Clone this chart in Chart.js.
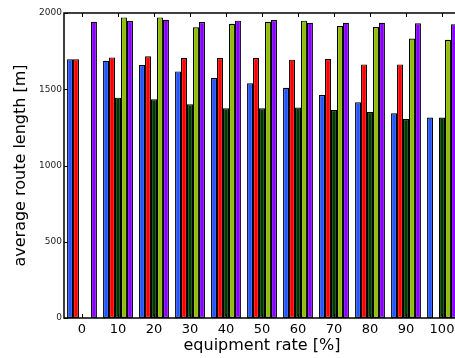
<!DOCTYPE html>
<html>
<head>
<meta charset="utf-8">
<script src="https://cdn.jsdelivr.net/npm/chart.js@4/dist/chart.umd.min.js"></script>
<style>
  html, body { margin: 0; padding: 0; background: #fff; overflow: hidden; }
  #wrap { width: 462px; height: 358px; }
</style>
</head>
<body>
<div id="wrap"><canvas id="chart"></canvas></div>
<script>
// equipment rate categories (x axis)
const rates = ['0', '10', '20', '30', '40', '50', '60', '70', '80', '90', '100'];

// average route length per series (null = no bar)
const seriesBlue   = [1697, 1687, 1659, 1617, 1574, 1539, 1510, 1462, 1414, 1342, 1314];
const seriesRed    = [1697, 1709, 1716, 1705, 1705, 1705, 1694, 1698, 1663, 1663, null];
const seriesGreen  = [null, 1445, 1434, 1401, 1375, 1375, 1381, 1364, 1351, 1305, 1314];
const seriesLime   = [null, 1971, 1971, 1906, 1930, 1943, 1950, 1915, 1908, 1832, 1825];
const seriesPurple = [1943, 1947, 1956, 1941, 1950, 1954, 1936, 1936, 1936, 1932, 1926];

const yTicks = [0, 500, 1000, 1500, 2000];

const colors = ['#2255ff', '#ff0000', '#003800', '#8fbf00', '#8800ff'];

// draws the box around the plot and the small inward tick marks (matplotlib look)
const framePlugin = {
  id: 'framePlugin',
  afterDraw: (chart) => {
    const ctx = chart.ctx;
    const a = chart.chartArea;
    const x = chart.scales.x;
    const y = chart.scales.y;
    ctx.save();
    ctx.strokeStyle = '#000';
    ctx.lineWidth = 1;
    for (let i = 0; i < rates.length; i++) {
      const px = Math.round(x.getPixelForTick(i)) + 0.5;
      ctx.beginPath();
      ctx.moveTo(px, a.top); ctx.lineTo(px, a.top + 4);
      ctx.moveTo(px, a.bottom); ctx.lineTo(px, a.bottom - 4);
      ctx.stroke();
    }
    yTicks.forEach((v) => {
      const py = Math.round(y.getPixelForValue(v)) + 0.5;
      ctx.beginPath();
      ctx.moveTo(a.left, py); ctx.lineTo(a.left + 4, py);
      ctx.stroke();
    });
    ctx.lineWidth = 1.5;
    ctx.strokeRect(a.left, a.top, a.right - a.left, a.bottom - a.top);
    ctx.restore();
  },
};

const allSeries = [seriesBlue, seriesRed, seriesGreen, seriesLime, seriesPurple];

new Chart(document.getElementById('chart'), {
  type: 'bar',
  data: {
    labels: rates,
    datasets: allSeries.map((d, i) => ({
      data: d,
      backgroundColor: colors[i],
      borderColor: '#000',
      borderWidth: 1.2,
      borderSkipped: false,
      barPercentage: 1,
      categoryPercentage: 0.83,
    })),
  },
  options: {
    responsive: true,
    maintainAspectRatio: false,
    animation: false,
    devicePixelRatio: 1,
    layout: { padding: { top: 13, right: 2, left: 0, bottom: 0 } },
    plugins: { legend: { display: false }, tooltip: { enabled: false } },
    scales: {
      x: {
        offset: true,
        grid: { display: false, drawTicks: false },
        border: { display: false },
        ticks: {
          color: '#000',
          padding: 4,
          maxRotation: 0,
          autoSkip: false,
          font: { family: 'DejaVu Sans', size: 13 },
        },
        title: {
          display: true,
          text: 'equipment rate [%]',
          color: '#000',
          padding: { top: 3, bottom: 3 },
          font: { family: 'DejaVu Sans', size: 16 },
        },
        afterFit: (scale) => { scale.height = 40; },
      },
      y: {
        min: 0,
        max: 2000,
        grid: { display: false, drawTicks: false },
        border: { display: false },
        ticks: {
          stepSize: 500,
          color: '#222',
          padding: 2,
          font: { family: 'DejaVu Sans', size: 9 },
          callback: (v) => String(v),
        },
        title: {
          display: true,
          text: 'average route length [m]',
          color: '#000',
          padding: { top: 11, bottom: 4 },
          font: { family: 'DejaVu Sans', size: 16 },
        },
        afterFit: (scale) => { scale.width = 64; },
      },
    },
  },
  plugins: [framePlugin],
});
</script>
</body>
</html>
